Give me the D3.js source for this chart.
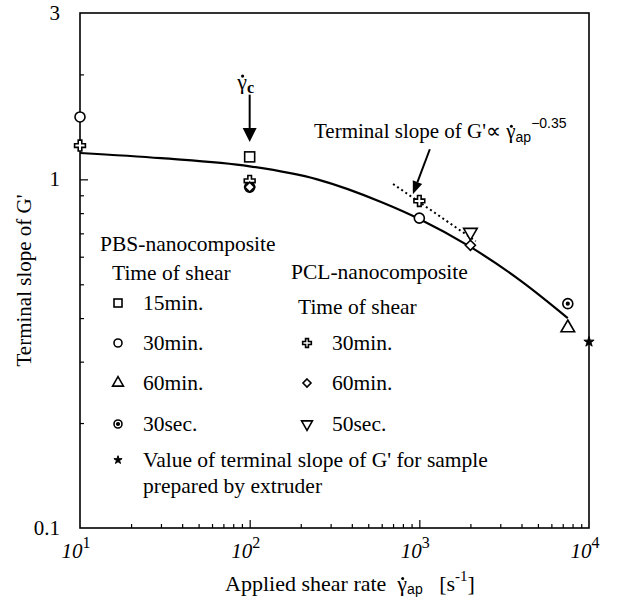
<!DOCTYPE html>
<html>
<head>
<meta charset="utf-8">
<script src="https://cdn.jsdelivr.net/npm/d3@7"></script>
<style>
  body { margin: 0; background: #fff; }
  svg { display: block; }
  text { font-family: "Liberation Serif", "Times New Roman", serif; fill: #000; }
</style>
</head>
<body>
<div id="chart"></div>
<script>
// data: [shear rate, terminal slope]
const pbs15min = [[100, 1.16]];
const pbs30min = [[10, 1.51], [1000, 0.774]];
const pbs60min = [[7500, 0.375]];
const pbs30sec = [[100, 0.95], [7500, 0.44]];
const pcl30min = [[10, 1.25], [100, 0.99], [1000, 0.867]];
const pcl60min = [[100, 0.95], [2000, 0.647]];
const pcl50sec = [[2000, 0.705]];
const extruder = [[10000, 0.342]];

const fitCurve = [[10, 1.19], [30, 1.15], [100, 1.09], [250, 1.0], [600, 0.86],
  [1000, 0.77], [2000, 0.64], [4000, 0.51], [7500, 0.40]];
const slopeLine = [[700, 0.97], [2150, 0.665]];

const xTicksMajor = [10, 100, 1000, 10000];
const xTickExp = ["1", "2", "3", "4"];
const yTickLabels = [[3, "3"], [1, "1"], [0.1, "0.1"]];

const width = 618, height = 600;
const plotLeft = 80, plotRight = 589, plotTop = 13, plotBottom = 528;

const svg = d3.select("#chart").append("svg")
  .attr("width", width)
  .attr("height", height);

const x = d3.scaleLog().domain([10, 10000]).range([plotLeft, plotRight]);
const y = d3.scaleLog().domain([0.1, 3]).range([plotBottom, plotTop]);

// minor ticks
const xMinor = [];
for (let d = 10; d < 10000; d *= 10) for (let k = 2; k <= 9; k++) xMinor.push(d * k);
const yMinor = [0.2, 0.3, 0.4, 0.5, 0.6, 0.7, 0.8, 0.9, 2];

// frame
svg.append("rect")
  .attr("x", plotLeft).attr("y", plotTop)
  .attr("width", plotRight - plotLeft).attr("height", plotBottom - plotTop)
  .attr("fill", "none").attr("stroke", "#000").attr("stroke-width", 1.6);

// axes with inward ticks
svg.append("g")
  .attr("transform", `translate(0,${plotBottom})`)
  .call(d3.axisBottom(x).tickValues(xMinor).tickSize(-4).tickFormat(""))
  .call(g => g.select(".domain").remove());
svg.append("g")
  .attr("transform", `translate(0,${plotBottom})`)
  .call(d3.axisBottom(x).tickValues([100, 1000]).tickSize(-8).tickFormat(""))
  .call(g => g.select(".domain").remove());
svg.append("g")
  .attr("transform", `translate(${plotLeft},0)`)
  .call(d3.axisLeft(y).tickValues(yMinor).tickSize(-4).tickFormat(""))
  .call(g => g.select(".domain").remove());
svg.append("g")
  .attr("transform", `translate(${plotLeft},0)`)
  .call(d3.axisLeft(y).tickValues([1]).tickSize(-8).tickFormat(""))
  .call(g => g.select(".domain").remove());
svg.selectAll(".tick line").attr("stroke-width", 1.2);

// tick labels
svg.append("g").selectAll("text")
  .data(yTickLabels)
  .join("text")
  .attr("x", plotLeft - 20)
  .attr("y", d => y(d[0]) + 7)
  .attr("text-anchor", "end")
  .attr("font-size", 21)
  .text(d => d[1]);

const xl = svg.append("g").selectAll("text")
  .data(xTicksMajor)
  .join("text")
  .attr("x", d => x(d) - 4)
  .attr("y", plotBottom + 30)
  .attr("text-anchor", "middle")
  .attr("font-size", 21)
  .attr("font-style", "italic");
xl.append("tspan").text("10");
xl.append("tspan").attr("dy", -10).attr("font-size", 16).attr("font-style", "normal")
  .text((d, i) => xTickExp[i]);

// puts the dot of gamma-dot over a character of a text
function dotOver(textSel, idx, r) {
  const ext = textSel.node().getExtentOfChar(idx);
  svg.append("circle")
    .attr("cx", ext.x + ext.width * 0.55)
    .attr("cy", ext.y + ext.height * 0.3)
    .attr("r", r)
    .attr("fill", "#000");
}

// axis titles
const xt = svg.append("text")
  .attr("x", 350).attr("y", 591)
  .attr("text-anchor", "middle")
  .attr("font-size", 22);
xt.append("tspan").text("Applied shear rate\u00A0\u00A0\u03B3");
xt.append("tspan").attr("dy", 3).attr("font-size", 14).attr("font-family", "Arial, sans-serif").text("ap");
xt.append("tspan").attr("dy", -3).text("\u00A0\u00A0\u00A0[s");
xt.append("tspan").attr("dy", -10).attr("font-size", 15).text("-1");
xt.append("tspan").attr("dy", 10).text("]");
dotOver(xt, 20, 1.5);

svg.append("text")
  .attr("transform", `translate(31,${(plotTop + plotBottom) / 2 + 10}) rotate(-90)`)
  .attr("text-anchor", "middle")
  .attr("font-size", 21)
  .text("Terminal slope of G'");

// fitted curve and slope line
svg.append("path")
  .datum(fitCurve)
  .attr("fill", "none")
  .attr("stroke", "#000")
  .attr("stroke-width", 2.2)
  .attr("d", d3.line().x(d => x(d[0])).y(d => y(d[1])).curve(d3.curveMonotoneX));

svg.append("path")
  .datum(slopeLine)
  .attr("fill", "none")
  .attr("stroke", "#000")
  .attr("stroke-width", 2)
  .attr("stroke-dasharray", "2,3")
  .attr("d", d3.line().x(d => x(d[0])).y(d => y(d[1])));

// markers
function marker(g, type, r) {
  if (type === "square") {
    g.append("rect").attr("x", -r).attr("y", -r).attr("width", 2 * r).attr("height", 2 * r);
  } else if (type === "circle") {
    g.append("circle").attr("r", r);
  } else if (type === "ring") {
    g.append("circle").attr("r", r);
    g.append("circle").attr("r", 1.3).attr("fill", "#000");
  } else if (type === "triUp") {
    g.append("path").attr("d", d3.symbol(d3.symbolTriangle, r * r * 3.2)());
  } else if (type === "triDown") {
    g.append("path").attr("transform", "rotate(180)").attr("d", d3.symbol(d3.symbolTriangle, r * r * 3.2)());
  } else if (type === "diamond") {
    g.append("path").attr("d", `M0,${-r}L${r},0L0,${r}L${-r},0Z`);
  } else if (type === "cross") {
    g.append("path").attr("d", d3.symbol(d3.symbolCross, r * r * 2.6)());
  } else if (type === "star") {
    g.append("path").attr("d", d3.symbol(d3.symbolStar, r * r * 1.3)()).attr("fill", "#000");
  }
  g.selectAll("*").filter(function () { return !this.getAttribute("fill"); })
    .attr("fill", "#fff");
  g.selectAll("*").attr("stroke", "#000").attr("stroke-width", type === "star" ? 1 : 1.6);
}

const seriesList = [
  [pbs15min, "square"], [pbs30min, "circle"], [pbs60min, "triUp"], [pbs30sec, "ring"],
  [pcl30min, "cross"], [pcl60min, "diamond"], [pcl50sec, "triDown"], [extruder, "star"]
];
seriesList.forEach(([data, type]) => {
  svg.append("g").selectAll("g")
    .data(data)
    .join("g")
    .attr("transform", d => `translate(${x(d[0])},${y(d[1])})`)
    .each(function () { marker(d3.select(this), type, 5); });
});

// annotations
function arrow(x0, y0, x1, y1, head, w) {
  const a = Math.atan2(y1 - y0, x1 - x0);
  const bx = x1 - head * Math.cos(a), by = y1 - head * Math.sin(a);
  svg.append("line")
    .attr("x1", x0).attr("y1", y0).attr("x2", bx).attr("y2", by)
    .attr("stroke", "#000").attr("stroke-width", 2);
  const px = -Math.sin(a) * w / 2, py = Math.cos(a) * w / 2;
  svg.append("path")
    .attr("d", `M${x1},${y1}L${bx + px},${by + py}L${bx - px},${by - py}Z`)
    .attr("fill", "#000");
}
arrow(x(100), y(1.75), x(100), y(1.28), 14, 14);
arrow(x(1153), y(1.22), x(916), y(0.906), 13, 10);

const gc = svg.append("text")
  .attr("x", x(100) - 4).attr("y", y(1.75) - 6)
  .attr("text-anchor", "middle")
  .attr("font-size", 22)
  .attr("font-family", "Arial, sans-serif");
gc.append("tspan").text("\u03B3");
gc.append("tspan").attr("dy", 4).attr("font-size", 16).attr("font-weight", "bold").text("c");
dotOver(gc, 0, 1.6);

const sl = svg.append("text")
  .attr("x", 314).attr("y", 138)
  .attr("font-size", 21);
sl.append("tspan").text("Terminal slope of G'\u221D \u03B3");
sl.append("tspan").attr("dy", 4).attr("font-size", 14).attr("font-family", "Arial, sans-serif").text("ap");
sl.append("tspan").attr("dy", -14).attr("font-size", 14).attr("font-family", "Arial, sans-serif").text("\u22120.35");
dotOver(sl, 22, 1.5);

// legend
const legend = svg.append("g");
const legendText = [
  [100, 251, "PBS-nanocomposite"], [112, 280, "Time of shear"],
  [291, 279, "PCL-nanocomposite"], [298, 314, "Time of shear"]
];
legend.selectAll("text.head")
  .data(legendText)
  .join("text")
  .attr("class", "head")
  .attr("x", d => d[0]).attr("y", d => d[1])
  .attr("font-size", 21.5)
  .text(d => d[2]);

const legendRows = [
  [118, 303, "square", "15min."], [118, 343, "circle", "30min."],
  [118, 383, "triUp", "60min."], [118, 424, "ring", "30sec."],
  [307, 343, "cross", "30min."], [307, 383, "diamond", "60min."],
  [307, 424, "triDown", "50sec."],
  [118, 460, "star", "Value of terminal slope of G' for sample"]
];
legendRows.forEach(([lx, ly, type, label]) => {
  const g = legend.append("g").attr("transform", `translate(${lx},${ly})`);
  marker(g, type, 4);
  legend.append("text")
    .attr("x", lx + 25).attr("y", ly + 7)
    .attr("font-size", 21.5)
    .text(label);
});
legend.append("text")
  .attr("x", 143).attr("y", 493)
  .attr("font-size", 21.5)
  .text("prepared by extruder");
</script>
</body>
</html>
